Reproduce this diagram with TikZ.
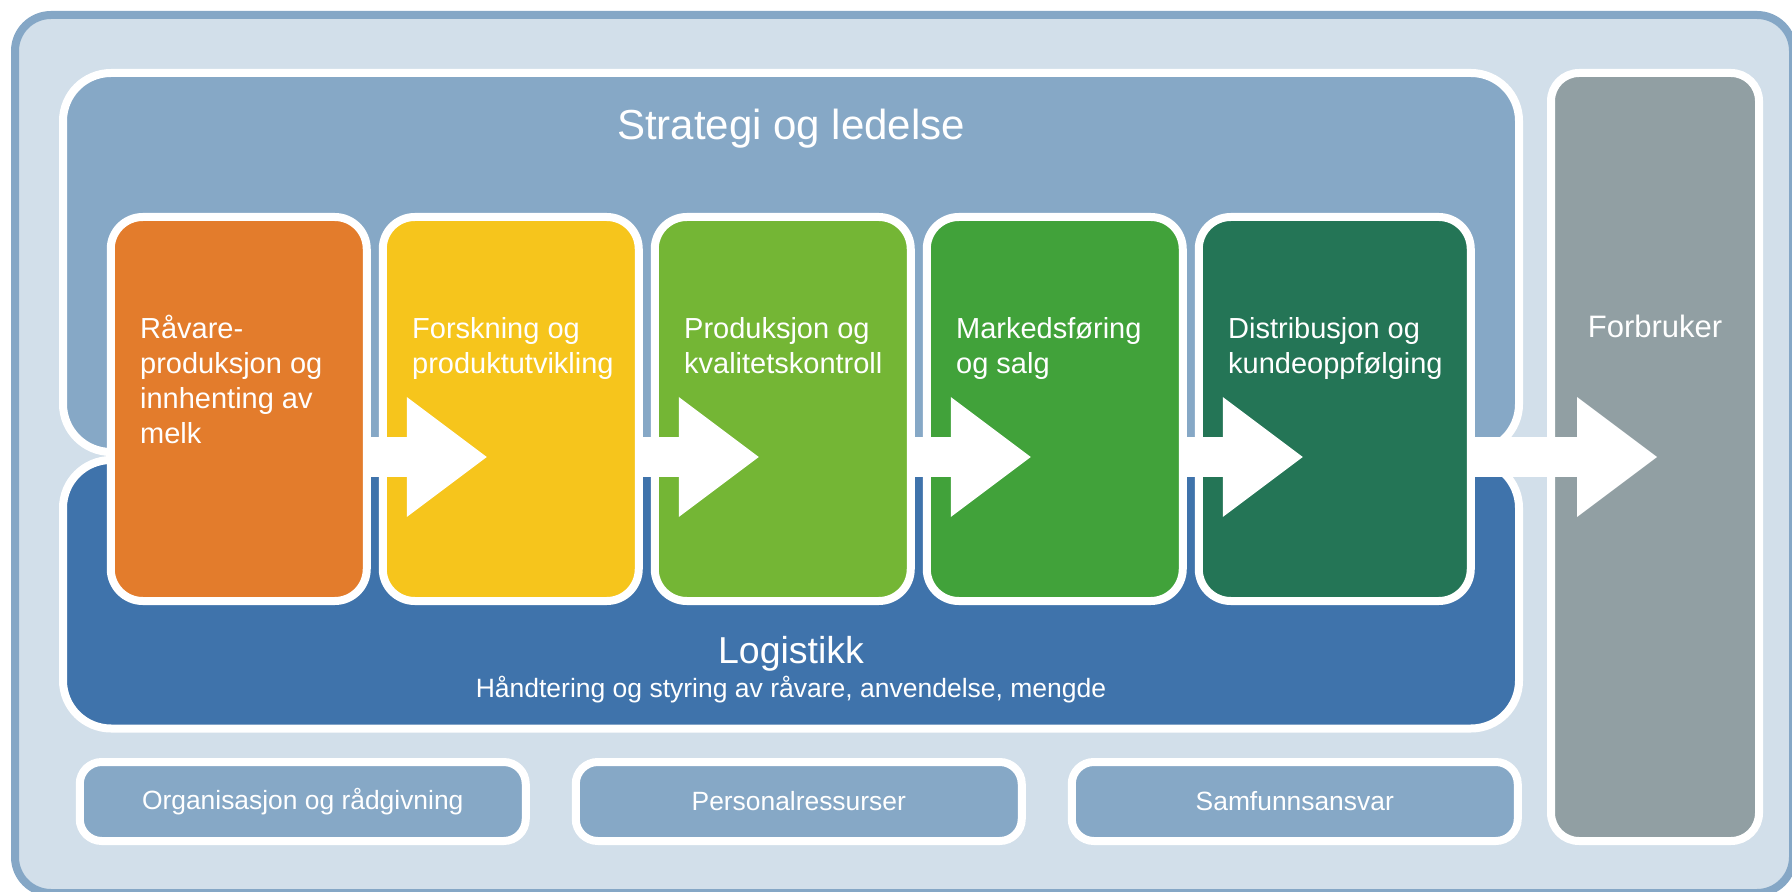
\documentclass[tikz,border=0pt]{standalone}
\usepackage{fontspec}
\setmainfont{Liberation Sans}
\usetikzlibrary{positioning,arrows.meta}
\newdimen\px \px=0.5pt
\definecolor{framebg}{HTML}{D2DFEA}
\definecolor{frameline}{HTML}{85A7C6}
\definecolor{strategyblue}{HTML}{86A8C6}
\definecolor{logisticsblue}{HTML}{3F73AB}
\definecolor{raworange}{HTML}{E37C2C}
\definecolor{researchyellow}{HTML}{F6C51C}
\definecolor{prodgreen}{HTML}{74B635}
\definecolor{salesgreen}{HTML}{41A23A}
\definecolor{distgreen}{HTML}{247556}
\definecolor{usergray}{HTML}{919FA3}

\begin{document}
\begin{tikzpicture}[x=\px, y=-\px,
        panel node/.style={draw=white, line width=8\px, rounded corners=48\px, inner sep=0pt, outer sep=0pt, minimum width=1456\px},
        stage node/.style={draw=white, line width=8\px, rounded corners=32\px, inner sep=0pt, outer sep=0pt, minimum width=256\px, minimum height=384\px},
        support node/.style={draw=white, line width=8\px, rounded corners=22\px, fill=strategyblue, minimum width=446\px, minimum height=79\px, inner sep=0pt, outer sep=0pt, font=\fontsize{13.2pt}{16pt}\selectfont},
        stage text/.style={align=left, anchor=base west, inner sep=0pt, font=\fontsize{14.5pt}{17.5pt}\selectfont},
        title text/.style={anchor=base, inner sep=0pt},
        flow arrow/.style={line width=20pt, white, -{Triangle[length=40pt, width=60pt, line width=0pt]}}]
        \tikzstyle{every node}=[text=white]
        \useasboundingbox (0,0) rectangle (1792,892);

          % background frame
          \draw[draw=frameline, fill=framebg, line width=8\px, rounded corners=36\px] (15,15) rectangle (1793,893);

          \node[panel node, fill=strategyblue, minimum height=379\px] (s) at (791,262.5) {};
          \node[panel node, fill=logisticsblue, minimum height=268.5\px] (l) at (791,594.25) {};

          \node[support node] (a) at (302.75,801.5) {Organisasjon og rådgivning};
          \node[support node] (b) [right=50\px of a] {Personalressurser};
          \node[support node] (c) [right=50\px of b] {Samfunnsansvar};

          \node[draw=white, line width=8\px, rounded corners=28\px, fill=usergray, minimum width=208\px, minimum height=768\px, inner sep=0pt, outer sep=0pt] (6) at (1655,457) {};

          % value chain
          \node[stage node, fill=raworange] (1) at (238.75,409) {};
          \node[stage node, fill=researchyellow] (2) [right=16\px of 1] {};
          \node[stage node, fill=prodgreen] (3) [right=16\px of 2] {};
          \node[stage node, fill=salesgreen] (4) [right=16\px of 3] {};
          \node[stage node, fill=distgreen, minimum width=272\px] (5) [right=16\px of 4] {};

          \path[flow arrow]
            ([yshift=-24pt]1.east) edge ([xshift=52pt,yshift=-24pt]2.west)
            ([yshift=-24pt]2.east) edge ([xshift=52pt,yshift=-24pt]3.west)
            ([yshift=-24pt]3.east) edge ([xshift=52pt,yshift=-24pt]4.west)
            ([yshift=-24pt]4.east) edge ([xshift=52pt,yshift=-24pt]5.west)
            ([yshift=-24pt]5.east) edge ([xshift=53pt]6.west);

          % labels (base = last line)
          \node[stage text] (t1) at ([xshift=14.5pt,yshift=-113.5pt]1.north west) {Råvare-\\produksjon og\\innhenting av\\melk};
          \node[stage text] (t2) at ([xshift=14.5pt,yshift=-78.5pt]2.north west) {Forskning og\\produktutvikling};
          \node[stage text] (t3) at ([xshift=14.5pt,yshift=-78.5pt]3.north west) {Produksjon og\\kvalitetskontroll};
          \node[stage text] (t4) at ([xshift=14.5pt,yshift=-78.5pt]4.north west) {Markedsføring\\og salg};
          \node[stage text] (t5) at ([xshift=14.5pt,yshift=-78.5pt]5.north west) {Distribusjon og\\kundeoppfølging};
          \node[title text, font=\fontsize{15.5pt}{18pt}\selectfont] (t6) at ([yshift=-132.5pt]6.north) {Forbruker};

          \node[title text, font=\fontsize{21pt}{25pt}\selectfont] (ts) at ([yshift=-33.5pt]s.north) {Strategi og ledelse};
          \node[title text, font=\fontsize{18.75pt}{22pt}\selectfont] (tl) at ([yshift=32.75pt]l.south) {Logistikk};
          \node[title text, font=\fontsize{13.25pt}{16pt}\selectfont] (th) at ([yshift=15.75pt]l.south) {Håndtering og styring av råvare, anvendelse, mengde};

\end{tikzpicture}
\end{document}
